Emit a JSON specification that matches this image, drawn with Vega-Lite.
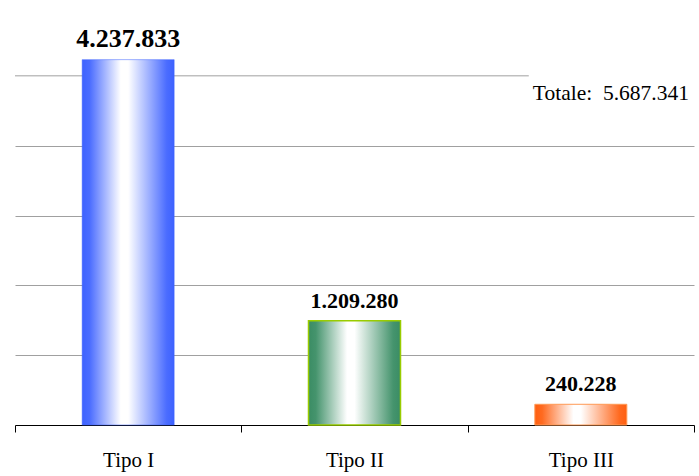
{
  "$schema": "https://vega.github.io/schema/vega-lite/v6.json",
  "width": 679,
  "height": 419,
  "autosize": {"type": "none"},
  "padding": {"left": 15, "top": 6, "right": 5, "bottom": 51},
  "background": "white",
  "config": {
    "locale": {"number": {"decimal": ",", "thousands": ".", "grouping": [3], "currency": ["€", ""]}},
    "view": {"stroke": null},
    "font": "Liberation Serif"
  },
  "data": {
    "values": [
      {"tipo": "Tipo I", "valore": 4237833},
      {"tipo": "Tipo II", "valore": 1209280},
      {"tipo": "Tipo III", "valore": 240228}
    ]
  },
  "encoding": {
    "x": {
      "field": "tipo",
      "type": "nominal",
      "scale": {"domain": ["Tipo I", "Tipo II", "Tipo III"], "paddingInner": 0, "paddingOuter": 0},
      "axis": {
        "title": null,
        "labelAngle": 0,
        "labelFont": "Liberation Serif",
        "labelFontSize": 21,
        "labelColor": "#000000",
        "labelPadding": 17,
        "domainColor": "#000000",
        "domainWidth": 1,
        "tickColor": "#000000",
        "tickWidth": 1,
        "tickSize": 7,
        "tickBand": "extent",
        "grid": false
      }
    },
    "y": {
      "field": "valore",
      "type": "quantitative",
      "scale": {"domain": [0, 4860000], "nice": false},
      "axis": {
        "title": null,
        "labels": false,
        "ticks": false,
        "domain": false,
        "grid": true,
        "gridColor": "#a0a0a0",
        "gridWidth": 1,
        "values": [810000, 1620000, 2430000, 3240000]
      }
    }
  },
  "layer": [
    {
      "transform": [{"filter": "datum.tipo === 'Tipo I'"}],
      "mark": {"type": "rule", "color": "#a0a0a0", "strokeWidth": 1},
      "encoding": {
        "x": {"field": "tipo", "type": "nominal", "bandPosition": 0},
        "x2": {"datum": "Tipo III", "bandPosition": 0.27},
        "y": {"datum": 4050000}
      }
    },
    {
      "transform": [{"filter": "datum.tipo === 'Tipo I'"}],
      "mark": {
        "type": "bar",
        "width": {"band": 0.4065},
        "stroke": "#3d62ff",
        "strokeWidth": 0.5,
        "color": {
          "gradient": "linear",
          "x1": 0, "y1": 0, "x2": 1, "y2": 0,
          "stops": [
            {"offset": 0, "color": "#3d62ff"},
            {"offset": 0.08, "color": "#4a6cff"},
            {"offset": 0.42, "color": "#ffffff"},
            {"offset": 0.5, "color": "#ffffff"},
            {"offset": 0.92, "color": "#4a6cff"},
            {"offset": 1, "color": "#3d62ff"}
          ]
        }
      }
    },
    {
      "transform": [{"filter": "datum.tipo === 'Tipo II'"}],
      "mark": {
        "type": "bar",
        "width": {"band": 0.4065},
        "stroke": "#99cc00",
        "strokeWidth": 1.5,
        "color": {
          "gradient": "linear",
          "x1": 0, "y1": 0, "x2": 1, "y2": 0,
          "stops": [
            {"offset": 0, "color": "#3a8c64"},
            {"offset": 0.08, "color": "#45946d"},
            {"offset": 0.42, "color": "#ffffff"},
            {"offset": 0.5, "color": "#ffffff"},
            {"offset": 0.92, "color": "#45946d"},
            {"offset": 1, "color": "#3a8c64"}
          ]
        }
      }
    },
    {
      "transform": [{"filter": "datum.tipo === 'Tipo III'"}],
      "mark": {
        "type": "bar",
        "width": {"band": 0.4065},
        "stroke": "#ff9a55",
        "strokeWidth": 1,
        "color": {
          "gradient": "linear",
          "x1": 0, "y1": 0, "x2": 1, "y2": 0,
          "stops": [
            {"offset": 0, "color": "#ff5f10"},
            {"offset": 0.08, "color": "#ff6a20"},
            {"offset": 0.42, "color": "#ffffff"},
            {"offset": 0.5, "color": "#ffffff"},
            {"offset": 0.92, "color": "#ff6a20"},
            {"offset": 1, "color": "#ff5f10"}
          ]
        }
      }
    },
    {
      "mark": {
        "type": "text",
        "font": "Liberation Serif",
        "fontWeight": "bold",
        "baseline": "alphabetic",
        "dy": -13,
        "color": "#000000"
      },
      "encoding": {
        "text": {"field": "valore", "type": "quantitative", "format": ",d"},
        "size": {"condition": {"test": "datum.tipo === 'Tipo I'", "value": 26}, "value": 22}
      }
    },
    {
      "transform": [{"filter": "datum.tipo === 'Tipo III'"}],
      "mark": {
        "type": "text",
        "text": "Totale:\u00a0 5.687.341",
        "font": "Liberation Serif",
        "fontSize": 21.5,
        "align": "right",
        "baseline": "alphabetic",
        "dx": -5,
        "color": "#000000"
      },
      "encoding": {
        "x": {"field": "tipo", "type": "nominal", "bandPosition": 1},
        "y": {"datum": 3770000}
      }
    }
  ]
}
